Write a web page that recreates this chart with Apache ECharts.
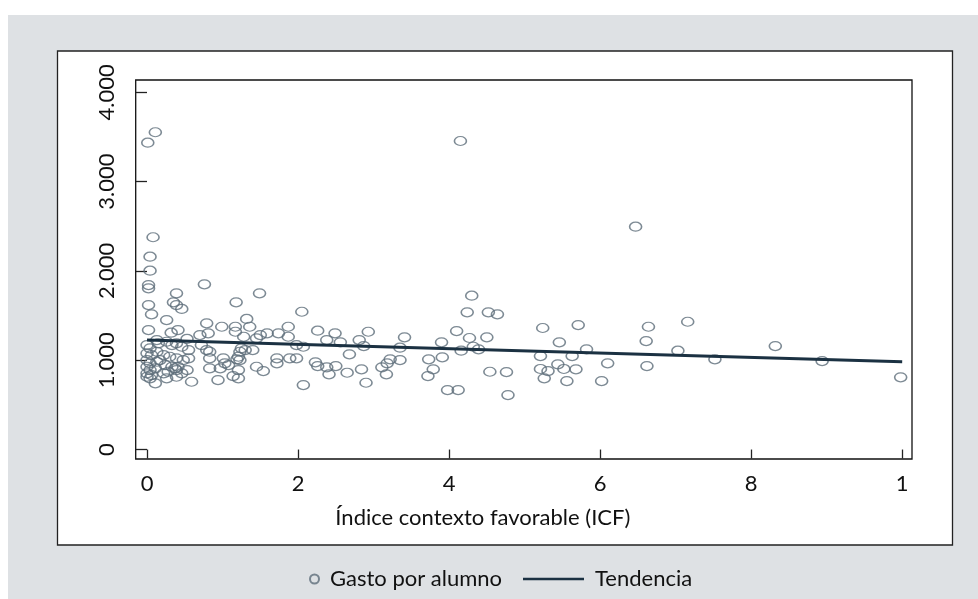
<!DOCTYPE html>
<html><head><meta charset="utf-8">
<script src="https://cdn.jsdelivr.net/npm/echarts@6/dist/echarts.min.js"></script>
<style>html,body{margin:0;padding:0;background:#fff}#c{width:978px;height:599px}</style>
</head><body><div id="c"></div>
<script>
// Índice contexto favorable (ICF) of each point
const icf = [0.11,0.01,0.08,0.04,0.04,0.02,0.02,0.76,0.02,0.39,
0.35,0.39,0.46,0.06,0.26,0.02,0.32,0.41,0.79,0.70,
0.81,0.53,0.13,0.15,0,0.04,0.26,0.33,0.39,0.46,
0.55,0.72,0.79,0.83,0,0.06,0.13,0.22,0.30,0.39,
0.48,0.55,0,0.04,0.13,0.17,0.24,0.33,0.37,0.41,
0,0.04,0.11,0.28,0.22,0,0.06,0.39,0.46,0.53,
0.83,0.11,0.26,0.39,0.59,0.83,0,0.04,1.49,1.18,
2.05,1.32,0.99,1.17,1.17,1.36,1.28,1.59,1.50,1.45,
1.74,1.87,1.87,1.98,2.07,1.25,1.23,1.30,1.40,1.21,
1.19,1.23,1.01,1.03,1.08,1.72,1.72,1.89,1.98,0.97,
1.45,1.54,1.21,1.14,1.21,0.94,2.07,4.30,4.24,4.52,
4.64,2.26,2.49,2.93,5.24,5.71,4.10,3.41,3.90,4.27,
4.50,5.46,2.38,2.56,2.81,2.87,3.35,4.32,4.39,4.16,
5.82,2.68,5.21,5.63,3.73,3.91,3.35,3.22,3.18,2.23,
2.26,2.38,2.50,3.11,5.44,3.79,5.21,5.31,5.52,5.68,
2.84,2.41,2.65,3.17,4.54,4.76,3.72,5.26,5.56,2.90,
3.98,4.12,4.78,4.15,6.47,6.64,7.16,6.61,7.03,8.32,
6.10,6.62,7.52,8.94,9.98,6.02];
// Gasto por alumno of each point
const gasto = [3553,3436,2377,2159,2003,1842,1805,1850,1618,1749,
1649,1618,1574,1514,1450,1338,1308,1338,1413,1282,
1301,1238,1226,1189,1170,1133,1207,1170,1189,1151,
1114,1170,1114,1095,1077,1058,1095,1058,1039,1021,
1002,1021,1002,965,983,1002,946,927,909,927,
927,890,909,871,853,853,834,890,853,890,
909,741,797,815,759,1021,815,797,1749,1649,
1543,1462,1375,1375,1319,1375,1263,1301,1282,1245,
1301,1375,1263,1170,1151,1133,1095,1114,1114,1039,
1010,1002,1021,965,946,1021,965,1021,1021,909,
927,879,890,823,797,778,722,1723,1537,1537,
1514,1331,1301,1319,1361,1394,1327,1257,1201,1249,
1257,1201,1226,1201,1226,1159,1140,1151,1122,1107,
1122,1066,1047,1047,1010,1033,1002,1010,965,977,
935,921,935,921,954,898,902,879,902,898,
898,842,860,842,871,868,823,797,767,748,
666,666,610,3455,2495,1375,1431,1215,1107,1159,
965,935,1010,991,809,767];
// trend line end points
const trendX = [0, 10];
const trendY = [1226, 983];
// ticks
const xTickValues = [0, 2, 4, 6, 8, 10];
const xTickLabels = ['0', '2', '4', '6', '8', '1'];
const yTickValues = [0, 1000, 2000, 3000, 4000];
const yTickLabels = ['0', '1.000', '2.000', '3.000', '4.000'];

const points = icf.map((x, i) => [x, gasto[i]]);
const trend = trendX.map((x, i) => [x, trendY[i]]);
const FONT = 'Lato';
const chart = echarts.init(document.getElementById('c'), null, {renderer: 'canvas'});
chart.setOption({
  backgroundColor: '#ffffff',
  animation: false,
  graphic: [
    {type: 'rect', z: -100, silent: true, shape: {x: 8, y: 15, width: 970, height: 584}, style: {fill: '#dee1e4'}},
    {type: 'rect', z: -99, silent: true, shape: {x: 57.5, y: 51, width: 895, height: 494}, style: {fill: '#ffffff', stroke: '#222', lineWidth: 1.3}}
  ],
  grid: {left: 135.7, top: 80, width: 776.3, height: 379, show: true, backgroundColor: '#ffffff', borderColor: '#111', borderWidth: 1.3},
  xAxis: {
    type: 'value', min: -0.15, max: 10.13, offset: 2,
    name: 'Índice contexto favorable (ICF)', nameLocation: 'middle', nameGap: 46,
    nameTextStyle: {fontFamily: FONT, fontSize: 22, color: '#111', padding: [0, 82, 0, 0]},
    axisLine: {show: false},
    axisTick: {show: true, length: 9, customValues: xTickValues, lineStyle: {color: '#222', width: 1.3}},
    axisLabel: {customValues: xTickValues, margin: 12, fontFamily: FONT, fontSize: 22, color: '#111',
      formatter: v => xTickLabels[xTickValues.indexOf(v)]},
    splitLine: {show: false}
  },
  yAxis: {
    type: 'value', min: -106, max: 4138, offset: 3,
    axisLine: {show: false},
    axisTick: {show: true, length: 11, customValues: yTickValues, lineStyle: {color: '#222', width: 1.3}},
    axisLabel: {customValues: yTickValues, rotate: 90, margin: 15, fontFamily: FONT, fontSize: 22, color: '#111',
      formatter: v => yTickLabels[yTickValues.indexOf(v)]},
    splitLine: {show: false}
  },
  legend: [
    {data: ['Gasto por alumno'], left: 304, top: 563, itemWidth: 9, itemHeight: 9,
      textStyle: {fontFamily: FONT, fontSize: 22, color: '#111', padding: [0, 0, 0, 6]}},
    {data: [{name: 'Tendencia', icon: 'path://M0,0H61V2.6H0Z'}], left: 518, top: 563, itemWidth: 61, itemHeight: 14,
      textStyle: {fontFamily: FONT, fontSize: 22, color: '#111', padding: [0, 0, 0, 6]}}
  ],
  series: [
    {name: 'Gasto por alumno', type: 'scatter', data: points, symbol: 'circle', symbolSize: [12, 9],
      itemStyle: {color: 'rgba(255,255,255,0)', borderColor: '#5d6d79', borderWidth: 1.4}, z: 2},
    {name: 'Tendencia', type: 'line', data: trend, symbol: 'none', showSymbol: false,
      lineStyle: {color: '#1b3142', width: 3}, itemStyle: {color: '#1b3142'}, z: 3}
  ]
});
</script></body></html>
